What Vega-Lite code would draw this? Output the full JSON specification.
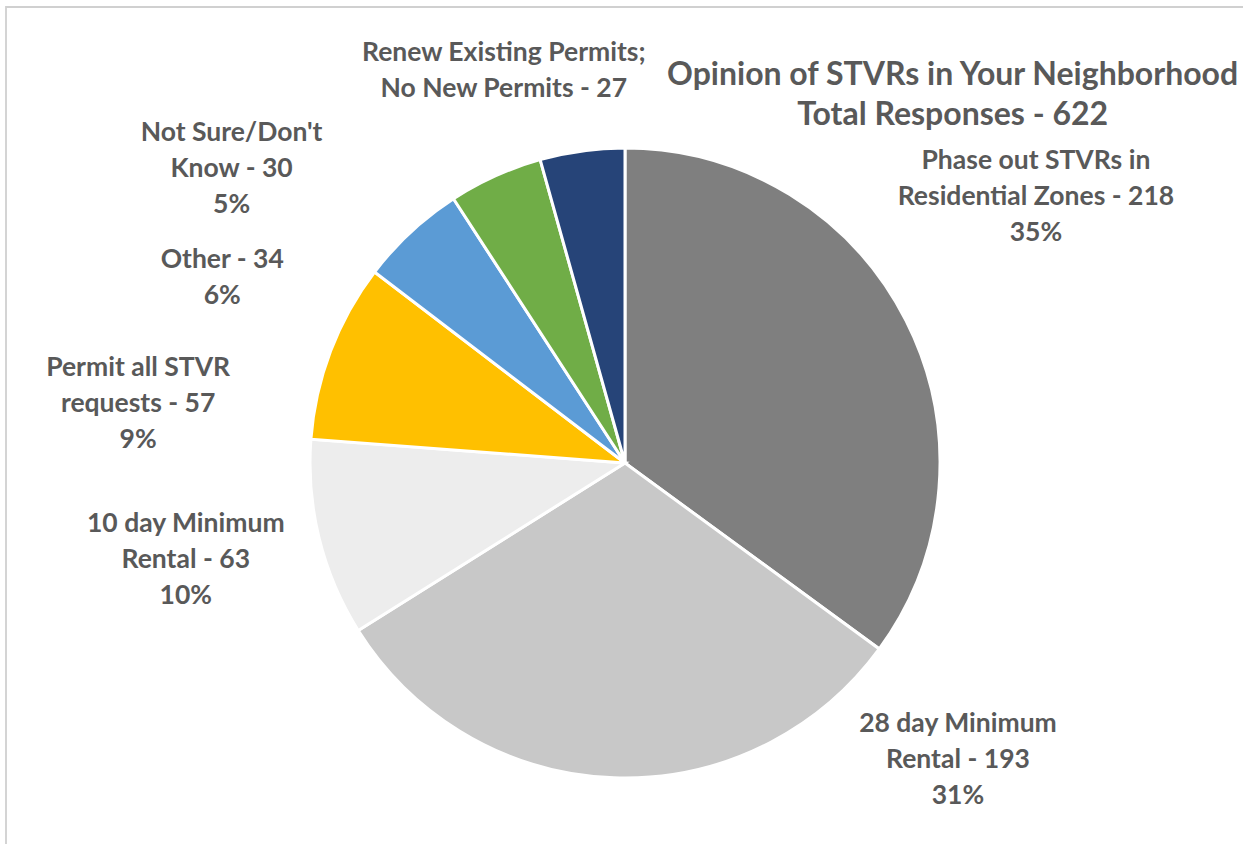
{
  "$schema": "https://vega.github.io/schema/vega-lite/v6.json",
  "width": 1238,
  "height": 838,
  "autosize": {"type": "none"},
  "padding": {"left": 6, "top": 7, "right": -1, "bottom": -1},
  "background": "white",
  "view": {"stroke": "#d0d0d0", "strokeWidth": 1.8},
  "config": {"view": {"stroke": "#d0d0d0", "strokeWidth": 1.8}, "font": "Lato"},
  "title": {
    "text": ["Opinion of STVRs in Your Neighborhood", "Total Responses - 622"],
    "anchor": "start",
    "align": "center",
    "dx": 962,
    "dy": 157,
    "baseline": "bottom",
    "offset": 0,
    "fontSize": 32,
    "fontWeight": "bold",
    "color": "#595959",
    "font": "Lato",
    "lineHeight": 40
  },
  "data": {
    "values": [
      {"idx": 1, "cat": "Phase out STVRs in Residential Zones", "value": 218, "label": "Phase out STVRs in\nResidential Zones - 218\n35%"},
      {"idx": 2, "cat": "28 day Minimum Rental", "value": 193, "label": "28 day Minimum\nRental - 193\n31%"},
      {"idx": 3, "cat": "10 day Minimum Rental", "value": 63, "label": "10 day Minimum\nRental - 63\n10%"},
      {"idx": 4, "cat": "Permit all STVR requests", "value": 57, "label": "Permit all STVR\nrequests - 57\n9%"},
      {"idx": 5, "cat": "Other", "value": 34, "label": "Other - 34\n6%"},
      {"idx": 6, "cat": "Not Sure/Don't Know", "value": 30, "label": "Not Sure/Don't\nKnow - 30\n5%"},
      {"idx": 7, "cat": "Renew Existing Permits; No New Permits", "value": 27, "label": "Renew Existing Permits;\nNo New Permits - 27"}
    ]
  },
  "encoding": {
    "theta": {"field": "value", "type": "quantitative", "stack": true},
    "order": {"field": "idx", "type": "quantitative"}
  },
  "layer": [
    {
      "mark": {"type": "arc", "outerRadius": 315, "stroke": "white", "strokeWidth": 3, "xOffset": 0, "yOffset": 37},
      "encoding": {
        "color": {
          "field": "cat",
          "type": "nominal",
          "legend": null,
          "scale": {
            "domain": ["Phase out STVRs in Residential Zones", "28 day Minimum Rental", "10 day Minimum Rental", "Permit all STVR requests", "Other", "Not Sure/Don't Know", "Renew Existing Permits; No New Permits"],
            "range": ["#7f7f7f", "#c8c8c8", "#ededed", "#ffc000", "#5b9bd5", "#70ad47", "#264478"]
          }
        }
      }
    },
    {
      "mark": {"type": "text", "radius": 250, "dx": 188, "dy": -189, "fontSize": 26.5, "fontWeight": "bold", "color": "#595959", "lineBreak": "\n", "lineHeight": 36, "align": "center", "baseline": "middle", "xOffset": 0, "yOffset": 37},
      "encoding": {"text": {"condition": {"test": "datum.idx === 1", "field": "label", "type": "nominal"}, "value": ""}}
    },
    {
      "mark": {"type": "text", "radius": 284, "dx": 343, "dy": -23, "fontSize": 26.5, "fontWeight": "bold", "color": "#595959", "lineBreak": "\n", "lineHeight": 36, "align": "center", "baseline": "middle", "xOffset": 0, "yOffset": 37},
      "encoding": {"text": {"condition": {"test": "datum.idx === 2", "field": "label", "type": "nominal"}, "value": ""}}
    },
    {
      "mark": {"type": "text", "radius": 300, "dx": -148, "dy": -11, "fontSize": 26.5, "fontWeight": "bold", "color": "#595959", "lineBreak": "\n", "lineHeight": 36, "align": "center", "baseline": "middle", "xOffset": 0, "yOffset": 37},
      "encoding": {"text": {"condition": {"test": "datum.idx === 3", "field": "label", "type": "nominal"}, "value": ""}}
    },
    {
      "mark": {"type": "text", "radius": 476, "dx": -42, "dy": 74, "fontSize": 26.5, "fontWeight": "bold", "color": "#595959", "lineBreak": "\n", "lineHeight": 36, "align": "center", "baseline": "middle", "xOffset": 0, "yOffset": 37},
      "encoding": {"text": {"condition": {"test": "datum.idx === 4", "field": "label", "type": "nominal"}, "value": ""}}
    },
    {
      "mark": {"type": "text", "radius": 410, "dx": -124, "dy": 98, "fontSize": 26.5, "fontWeight": "bold", "color": "#595959", "lineBreak": "\n", "lineHeight": 36, "align": "center", "baseline": "middle", "xOffset": 0, "yOffset": 37},
      "encoding": {"text": {"condition": {"test": "datum.idx === 5", "field": "label", "type": "nominal"}, "value": ""}}
    },
    {
      "mark": {"type": "text", "radius": 431, "dx": -216, "dy": 63, "fontSize": 26.5, "fontWeight": "bold", "color": "#595959", "lineBreak": "\n", "lineHeight": 36, "align": "center", "baseline": "middle", "xOffset": 0, "yOffset": 37},
      "encoding": {"text": {"condition": {"test": "datum.idx === 6", "field": "label", "type": "nominal"}, "value": ""}}
    },
    {
      "mark": {"type": "text", "radius": 406, "dx": -66, "dy": -8, "fontSize": 26.5, "fontWeight": "bold", "color": "#595959", "lineBreak": "\n", "lineHeight": 36, "align": "center", "baseline": "middle", "xOffset": 0, "yOffset": 37},
      "encoding": {"text": {"condition": {"test": "datum.idx === 7", "field": "label", "type": "nominal"}, "value": ""}}
    }
  ]
}
